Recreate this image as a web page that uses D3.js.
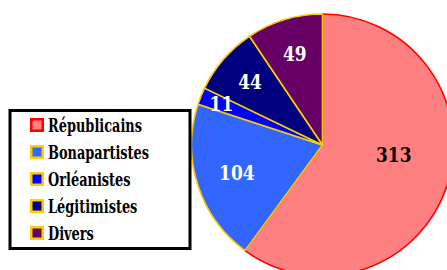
<!DOCTYPE html>
<html><head><meta charset="utf-8">
<script src="https://cdn.jsdelivr.net/npm/d3@7"></script>
<style>html,body{margin:0;padding:0;background:#fff;overflow:hidden}</style>
</head><body>
<svg id="c" width="447" height="270"></svg>
<script>
const categories = ["Républicains", "Bonapartistes", "Orléanistes", "Légitimistes", "Divers"];
const seats = [313, 104, 11, 44, 49];
const fills = ["#ff8080", "#3366ff", "#0000ff", "#000080", "#660066"];
const strokes = ["#ff0000", "#ffcc00", "#ffcc00", "#ffcc00", "#ffcc00"];
const labelColors = ["#000", "#fff", "#fff", "#fff", "#fff"];

// layout
const cx = 322.5, cy = 145, R = 131;
const labelR = [72, 90, 109, 96, 95];
const labelAngleShift = [-10, 0, 0, 0, 0];
const FONT = "'DejaVu Serif', serif";

const svg = d3.select("#c");
const data = categories.map((c, i) => ({cat: c, v: seats[i], i}));
const pie = d3.pie().sort(null).value(d => d.v).startAngle(0).endAngle(2 * Math.PI);
const arcs = pie(data);
const arc = d3.arc().innerRadius(0).outerRadius(R);

const g = svg.append("g").attr("transform", `translate(${cx},${cy})`);
g.selectAll("path").data(arcs).join("path")
  .attr("d", arc)
  .attr("fill", d => fills[d.data.i])
  .attr("stroke", d => strokes[d.data.i])
  .attr("stroke-width", 1.6)
  .attr("stroke-linejoin", "round");

const lab = g.selectAll("g.lab").data(arcs).join("g").attr("class", "lab")
  .attr("transform", d => {
    const a = (d.startAngle + d.endAngle) / 2 + labelAngleShift[d.data.i] * Math.PI / 180;
    const r = labelR[d.data.i];
    return `translate(${r * Math.sin(a)},${-r * Math.cos(a)}) scale(0.85,1)`;
  });
lab.append("text")
  .attr("dy", "0.36em")
  .attr("text-anchor", "middle")
  .attr("font-family", FONT)
  .attr("font-weight", "bold")
  .attr("font-size", 20)
  .attr("fill", d => labelColors[d.data.i])
  .text(d => d.data.v);

// legend
const lg = svg.append("g");
lg.append("rect").attr("x", 10).attr("y", 110.5).attr("width", 180).attr("height", 138)
  .attr("fill", "#fff").attr("stroke", "#000").attr("stroke-width", 3);
const y = d3.scalePoint().domain(categories).range([125, 233]);
const rows = lg.selectAll("g.row").data(data).join("g").attr("class", "row")
  .attr("transform", d => `translate(0,${y(d.cat)})`);
rows.append("rect").attr("x", 31.25).attr("y", -5.75).attr("width", 11.5).attr("height", 11.5)
  .attr("fill", d => fills[d.i]).attr("stroke", d => strokes[d.i]).attr("stroke-width", 2.5);
rows.append("text")
  .attr("transform", "translate(48,7) scale(0.68,1)")
  .attr("font-family", FONT)
  .attr("font-weight", "bold").attr("font-size", 19)
  .attr("fill", "#000")
  .text(d => d.cat);
</script>
</body></html>
